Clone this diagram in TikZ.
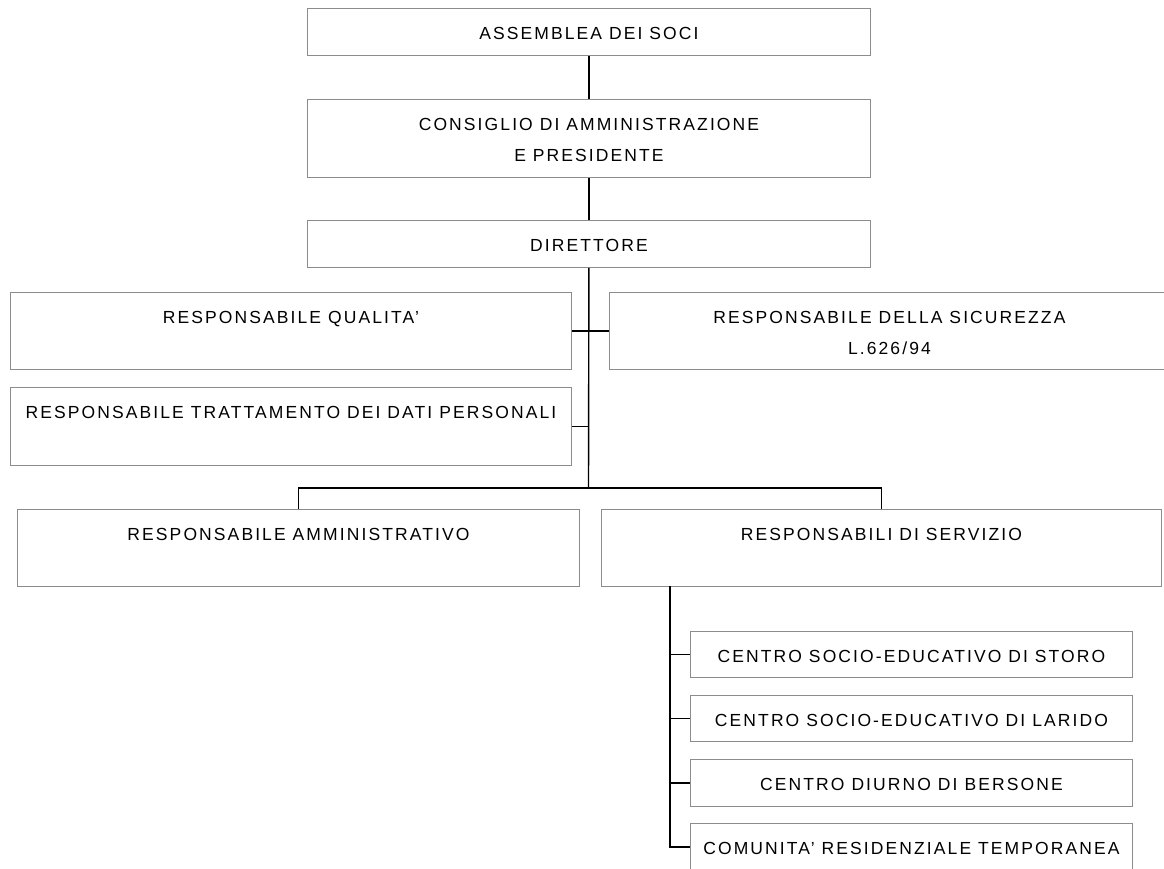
\documentclass[tikz,border=0pt]{standalone}
\usepackage{fontspec}
\setmainfont{Liberation Sans}[LetterSpace=12]
\usepackage{tikz}

\begin{document}
\begin{tikzpicture}[x=1pt, y=-1pt,
  unit/.style={draw=black!45, line width=0.9pt, anchor=north west,
    inner xsep=0pt, inner ysep=0pt, align=center,
    font=\fontsize{17.5}{31}\selectfont, text height=31pt},
  twoline/.style={text height=62pt},
  link/.style={draw=black, line width=1.4pt}]
  \useasboundingbox (0,0) rectangle (1164,869);
  % top of the chart
  \node[unit, minimum width=563pt, text depth=16pt] (soci) at (307,8) {ASSEMBLEA DEI SOCI};
  \node[unit, twoline, minimum width=563pt, text depth=16pt] (consiglio) at (307,99) {CONSIGLIO DI AMMINISTRAZIONE\\E PRESIDENTE};
  \node[unit, minimum width=563pt, text depth=16pt] (direttore) at (307,220) {DIRETTORE};
  % staff
  \node[unit, minimum width=561pt, text depth=46pt] (qualita) at (10,292) {RESPONSABILE QUALITA'};
  \node[unit, twoline, minimum width=560pt, text depth=15pt] (sicurezza) at (609,292) {RESPONSABILE DELLA SICUREZZA\\L.626/94};
  \node[unit, minimum width=561pt, text depth=47pt] (trattamento) at (10,387) {RESPONSABILE TRATTAMENTO DEI DATI PERSONALI};
  % line
  \node[unit, minimum width=562pt, text depth=46pt] (amministrativo) at (17,509) {RESPONSABILE AMMINISTRATIVO};
  \node[unit, minimum width=560pt, text depth=46pt] (servizio) at (601,509) {RESPONSABILI DI SERVIZIO};
  % services
  \node[unit, minimum width=442pt, text depth=15pt] (storo) at (690,631) {CENTRO SOCIO-EDUCATIVO DI STORO};
  \node[unit, minimum width=442pt, text depth=15pt] (larido) at (690,695) {CENTRO SOCIO-EDUCATIVO DI LARIDO};
  \node[unit, minimum width=442pt, text depth=16pt] (bersone) at (690,759) {CENTRO DIURNO DI BERSONE};
  \node[unit, minimum width=442pt, text depth=16pt] (comunita) at (690,823) {COMUNITA' RESIDENZIALE TEMPORANEA};

  \coordinate (split) at (588.5,488);
  \coordinate (stub) at (670,586);

  \draw[link] (soci) -- (consiglio);
  \draw[link] (consiglio) -- (direttore);
  \draw[link] (direttore) -- (split);
  \draw[link] (qualita.east) -- (sicurezza.west);
  \draw[link] (trattamento.east) -- (trattamento.east -| split);
  \draw[link] (amministrativo.north) |- (split) -| (servizio.north);
  \draw[link] (stub) |- (comunita.west);
  \draw[link] (storo.west -| stub) -- (storo.west);
  \draw[link] (larido.west -| stub) -- (larido.west);
  \draw[link] (bersone.west -| stub) -- (bersone.west);
\end{tikzpicture}
\end{document}
